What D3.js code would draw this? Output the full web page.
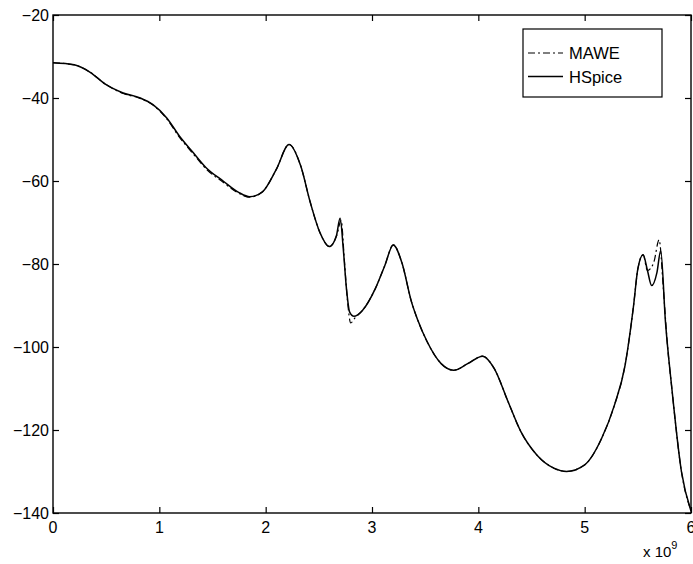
<!DOCTYPE html>
<html>
<head>
<meta charset="utf-8">
<script src="https://cdn.jsdelivr.net/npm/d3@7"></script>
<style>
  body { margin: 0; background: #fff; }
  svg { font-family: "Liberation Sans", Arial, sans-serif; }
</style>
</head>
<body>
<svg id="chart"></svg>
<script>
(function() {

// frequency in units of 1e9
var hspiceX = [0, 0.2, 0.35, 0.5, 0.66, 0.82, 0.94, 1.07, 1.19, 1.32, 1.44, 1.6, 1.75, 1.85, 1.97, 2.1, 2.22, 2.33, 2.42, 2.51, 2.6, 2.665, 2.7, 2.73, 2.76, 2.79, 2.83, 2.91, 3.03, 3.12, 3.2, 3.28, 3.37, 3.43, 3.52, 3.65, 3.77, 3.9, 4.04, 4.15, 4.28, 4.4, 4.55, 4.71, 4.83, 5.0, 5.16, 5.28, 5.38, 5.46, 5.5, 5.55, 5.59, 5.63, 5.68, 5.715, 5.76, 5.82, 5.91, 6.0];
var hspiceY = [-31.5, -32.0, -33.8, -36.8, -38.8, -40, -41.6, -44.8, -49.2, -53.2, -56.8, -60, -62.8, -63.8, -62.6, -57.2, -51.2, -56.4, -65.2, -72.4, -75.8, -73.2, -69, -76.4, -86, -91.6, -92.6, -91.2, -86, -80.4, -75.4, -79.6, -89, -93.5, -98.8, -104, -105.6, -104, -102.2, -105.2, -113.2, -120.4, -126, -129.2, -130, -128.4, -122, -114, -104.4, -90, -81.2, -77.8, -81.5, -85.2, -82, -76.8, -94, -110, -130, -139.5];

var maweX = [0, 0.2, 0.35, 0.5, 0.66, 0.82, 0.94, 1.07, 1.19, 1.32, 1.44, 1.6, 1.75, 1.85, 1.97, 2.1, 2.22, 2.33, 2.42, 2.51, 2.6, 2.67, 2.71, 2.74, 2.77, 2.8, 2.84, 2.91, 3.03, 3.12, 3.2, 3.28, 3.37, 3.43, 3.52, 3.65, 3.77, 3.9, 4.04, 4.15, 4.28, 4.4, 4.55, 4.71, 4.83, 5.0, 5.16, 5.28, 5.38, 5.46, 5.5, 5.55, 5.59, 5.65, 5.7, 5.74, 5.78, 5.82, 5.91, 6.0];
var maweY = [-31.5, -32.0, -33.8, -36.8, -38.9, -40.1, -41.7, -45, -49.5, -53.5, -57.1, -60.3, -63, -63.9, -62.6, -57.2, -51.2, -56.4, -65.2, -72.4, -75.8, -73, -69.5, -79, -89, -94.2, -93, -91.2, -86, -80.4, -75.4, -79.6, -89, -93.5, -98.8, -104, -105.6, -104, -102.2, -105.2, -113.2, -120.4, -126, -129.2, -130, -128.4, -122, -114, -104.4, -90, -81.2, -77.8, -81.6, -79.6, -74.2, -86, -100, -110, -130, -139.5];

var xTicks = [0, 1, 2, 3, 4, 5, 6];
var yTicks = [-140, -120, -100, -80, -60, -40, -20];
var legendNames = ["MAWE", "HSpice"];

var full_width = 693, full_height = 564;
var margin = {top: 15, right: 2, bottom: 51, left: 53};

var svg = d3.select("#chart")
    .attr("width", full_width)
    .attr("height", full_height);

var x = d3.scaleLinear().domain([0, 6]).range([margin.left, full_width - margin.right]);
var y = d3.scaleLinear().domain([-140, -20]).range([full_height - margin.bottom, margin.top]);

var fmt = function(d) { return d < 0 ? "\u2212" + Math.abs(d) : "" + d; };

// axes, ticks pointing inward on all four sides
svg.append("g")
    .attr("transform", "translate(0," + y(-140) + ")")
    .call(d3.axisTop(x).tickValues(xTicks).tickSize(6).tickFormat(""))
    .call(function(g) { g.select(".domain").remove(); });
svg.append("g")
    .attr("transform", "translate(0," + y(-20) + ")")
    .call(d3.axisBottom(x).tickValues(xTicks).tickSize(6).tickFormat(""))
    .call(function(g) { g.select(".domain").remove(); });
svg.append("g")
    .attr("transform", "translate(" + x(0) + ",0)")
    .call(d3.axisRight(y).tickValues(yTicks).tickSize(6).tickFormat(""))
    .call(function(g) { g.select(".domain").remove(); });
svg.append("g")
    .attr("transform", "translate(" + x(6) + ",0)")
    .call(d3.axisLeft(y).tickValues(yTicks).tickSize(6).tickFormat(""))
    .call(function(g) { g.select(".domain").remove(); });

svg.selectAll("line").attr("stroke", "#000").attr("stroke-width", 1.2);

svg.append("rect")
    .attr("x", x(0)).attr("y", y(-20))
    .attr("width", x(6) - x(0)).attr("height", y(-140) - y(-20))
    .attr("fill", "none").attr("stroke", "#000").attr("stroke-width", 1.4);

// tick labels
svg.append("g").selectAll("text")
    .data(xTicks).enter().append("text")
    .attr("x", function(d) { return x(d); })
    .attr("y", y(-140) + 20)
    .attr("text-anchor", "middle")
    .attr("font-size", 16)
    .text(fmt);

svg.append("g").selectAll("text")
    .data(yTicks).enter().append("text")
    .attr("x", x(0) - 4)
    .attr("y", function(d) { return y(d) + 6; })
    .attr("text-anchor", "end")
    .attr("font-size", 16)
    .text(fmt);

var expo = svg.append("text")
    .attr("x", 643).attr("y", 557)
    .attr("font-size", 15);
expo.append("tspan").text("x 10");
expo.append("tspan").attr("dy", -8).attr("font-size", 11).text("9");

// curves
var line = d3.line()
    .x(function(d) { return x(d[0]); })
    .y(function(d) { return y(d[1]); })
    .curve(d3.curveMonotoneX);

var hspice = d3.zip(hspiceX, hspiceY);
var mawe = d3.zip(maweX, maweY);

svg.append("path")
    .datum(hspice)
    .attr("fill", "none")
    .attr("stroke", "#000")
    .attr("stroke-width", 1.5)
    .attr("d", line);

svg.append("path")
    .datum(mawe)
    .attr("fill", "none")
    .attr("stroke", "#000")
    .attr("stroke-width", 1.2)
    .attr("stroke-dasharray", "7,3,2,3")
    .attr("d", line);

// legend
var legend = svg.append("g").attr("transform", "translate(523,29)");
legend.append("rect")
    .attr("width", 139).attr("height", 68)
    .attr("fill", "#fff").attr("stroke", "#000").attr("stroke-width", 1.2);

var items = legend.selectAll("g.item")
    .data(legendNames).enter().append("g")
    .attr("class", "item")
    .attr("transform", function(d, i) { return "translate(0," + (24 + i * 23.5) + ")"; });

items.append("line")
    .attr("x1", 5).attr("x2", 40)
    .attr("stroke", "#000")
    .attr("stroke-width", function(d, i) { return i == 0 ? 1.2 : 1.5; })
    .attr("stroke-dasharray", function(d, i) { return i == 0 ? "7,3,2,3" : null; });

items.append("text")
    .attr("x", 46).attr("y", 6)
    .attr("font-size", 16.5)
    .text(function(d) { return d; });

})();
</script>
</body>
</html>
